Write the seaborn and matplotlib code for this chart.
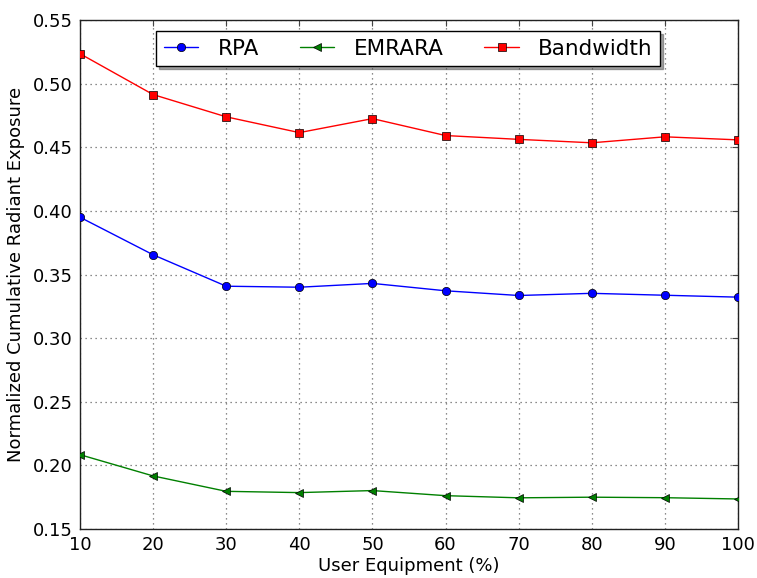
import numpy as np
import pandas as pd
import matplotlib
matplotlib.use("Agg")
import matplotlib.pyplot as plt
import seaborn as sns

ue = [10, 20, 30, 40, 50, 60, 70, 80, 90, 100]
rpa = [0.395, 0.3655, 0.3408, 0.3400, 0.3430, 0.3372, 0.3335, 0.3352, 0.3337, 0.3322]
emrara = [0.2084, 0.1917, 0.1796, 0.1786, 0.1802, 0.1762, 0.1745, 0.1750, 0.1746, 0.1736]
bandwidth = [0.5235, 0.4914, 0.4739, 0.4615, 0.4725, 0.4592, 0.4562, 0.4535, 0.4582, 0.4558]
series = ["RPA", "EMRARA", "Bandwidth"]
xticks = [10, 20, 30, 40, 50, 60, 70, 80, 90, 100]
yticks = [0.15, 0.20, 0.25, 0.30, 0.35, 0.40, 0.45, 0.50, 0.55]

df = pd.DataFrame({
    "UE": ue * 3,
    "value": rpa + emrara + bandwidth,
    "series": [series[0]] * len(ue) + [series[1]] * len(ue) + [series[2]] * len(ue),
})

sns.set_style("white")
plt.rcParams["font.family"] = ["DejaVu Sans"]
plt.rcParams["text.color"] = "black"
plt.rcParams["axes.labelcolor"] = "black"
plt.rcParams["xtick.color"] = "black"
plt.rcParams["ytick.color"] = "black"

fig = plt.figure(figsize=(7.57, 5.78), dpi=100)
ax = fig.add_axes([80/757, 1-529/578, (738-80)/757, (529-20)/578])

sns.lineplot(data=df, x="UE", y="value", hue="series", style="series",
             palette={"RPA": "#0000ff", "EMRARA": "#008000", "Bandwidth": "#ff0000"},
             markers={"RPA": "o", "EMRARA": "<", "Bandwidth": "s"},
             dashes=False, markersize=6, markeredgecolor="black", markeredgewidth=0.5,
             linewidth=1.0, ax=ax, legend=True, zorder=3)

ax.set_xlim(10, 100)
ax.set_ylim(0.15, 0.55)
ax.set_xticks(xticks)
ax.set_xticklabels([str(t) for t in xticks])
ax.set_yticks(yticks)
ax.set_yticklabels([f"{t:.2f}" for t in yticks])
ax.tick_params(axis="both", direction="in", length=4, width=0.8, labelsize=13,
               top=True, right=True, color="#444444", labelcolor="black", pad=5)
ax.grid(True, linestyle=(0, (1, 3)), color="#666666", linewidth=0.9)
for s in ax.spines.values():
    s.set_color("#222222")
    s.set_linewidth(1.0)

ax.set_xlabel("User Equipment (%)", fontsize=13, labelpad=2, color="black")
ax.set_ylabel("Normalized Cumulative Radiant Exposure", fontsize=13, labelpad=6, color="black")

handles, labels = ax.get_legend_handles_labels()
leg = ax.legend(handles, labels, loc="upper center", bbox_to_anchor=(0.499, 0.978),
                borderaxespad=0, ncol=3, fontsize=15.5, frameon=True, shadow=True,
                fancybox=False, handlelength=1.6, columnspacing=1.9, handletextpad=0.9,
                borderpad=0.35)
leg.get_frame().set_edgecolor("black")
leg.get_frame().set_linewidth(1.0)
for h in leg.legend_handles:
    h.set_markeredgecolor("black")
    h.set_markeredgewidth(0.5)
for t in leg.get_texts():
    t.set_color("black")

fig.savefig("out.png", dpi=100)
